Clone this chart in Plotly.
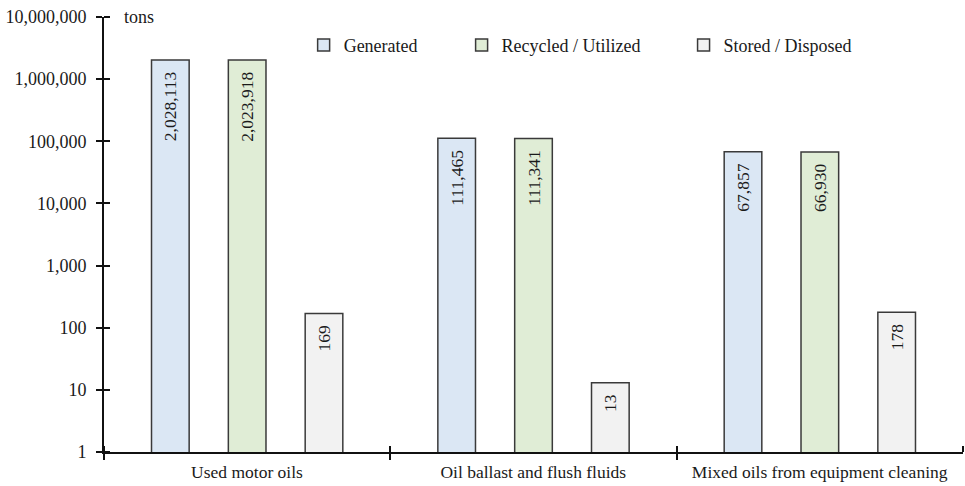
import plotly.graph_objects as go

categories = ["Used motor oils", "Oil ballast and flush fluids", "Mixed oils from equipment cleaning"]
generated = [2028113, 111465, 67857]
recycled = [2023918, 111341, 66930]
stored = [169, 13, 178]
series_names = ["Generated", "Recycled / Utilized", "Stored / Disposed"]
y_tick_values = [1, 10, 100, 1000, 10000, 100000, 1000000, 10000000]
y_tick_labels = [f"{v:,}" for v in y_tick_values]

FONT = "Liberation Serif, Times New Roman, serif"
colors = ["#dbe7f4", "#e0edd6", "#f2f2f2"]
legend_ids = ["legend", "legend2", "legend3"]
AX = "#111111"

# categories sit at 0, 1, 2 on a linear axis; tick marks go on the boundaries
positions = list(range(len(categories)))
boundaries = [p - 0.5 for p in positions] + [positions[-1] + 0.5]

WIDTH, HEIGHT = 965, 486
M_L, M_R, M_T, M_B = 104, 2, 17, 34
cat_px = (WIDTH - M_L - M_R) / len(categories)

fig = go.Figure()
for name, vals, col, lg in zip(series_names, [generated, recycled, stored], colors, legend_ids):
    fig.add_trace(go.Bar(
        x=positions, y=vals, name=name, legend=lg,
        marker=dict(color=col, line=dict(color="#3a3a3a", width=1.5)),
        # en space at the end keeps the value a little below the bar top
        text=[f"{v:,}\u2002" for v in vals],
        textposition="inside", insidetextanchor="end", textangle=-90,
        textfont=dict(family=FONT, size=17.5, color="#1a1a1a"),
        cliponaxis=False, hoverinfo="name+y",
    ))

leg_common = dict(orientation="h", yanchor="middle", xanchor="left",
                  font=dict(family=FONT, size=18, color="#1a1a1a"),
                  bgcolor="rgba(0,0,0,0)", itemwidth=30)

fig.update_layout(
    width=WIDTH, height=HEIGHT,
    margin=dict(l=M_L, r=M_R, t=M_T, b=M_B, autoexpand=False),
    paper_bgcolor="white", plot_bgcolor="white",
    barmode="group", bargap=0.195, bargroupgap=0.51,
    showlegend=True,
    font=dict(family=FONT, size=18, color="#1a1a1a"),
    legend=dict(x=0.2324, y=0.935, **leg_common),
    legend2=dict(x=0.4163, y=0.935, **leg_common),
    legend3=dict(x=0.6747, y=0.935, **leg_common),
    xaxis=dict(
        type="linear", range=[boundaries[0], boundaries[-1]],
        showline=True, linecolor=AX, linewidth=2, automargin=False,
        tickvals=boundaries, ticktext=categories + [""],
        ticks="outside", ticklen=6, tickwidth=2, tickcolor=AX,
        ticklabelshift=int(round(cat_px / 2)), ticklabelstandoff=-3,
        showgrid=False, zeroline=False,
        tickfont=dict(family=FONT, size=17.5, color="#1a1a1a"),
        minor=dict(tickvals=boundaries, ticks="inside", ticklen=6,
                   tickwidth=2, tickcolor=AX, showgrid=False),
    ),
    yaxis=dict(
        type="log", range=[0, 7], showline=True, linecolor=AX, linewidth=2,
        automargin=False,
        ticks="outside", ticklen=6, tickwidth=2, tickcolor=AX,
        tickvals=y_tick_values, ticktext=y_tick_labels,
        showgrid=False, zeroline=False, ticklabelstandoff=6,
        tickfont=dict(family=FONT, size=18, color="#1a1a1a"),
        # minor ticks on the same values give the inner half of each cross
        minor=dict(tickvals=y_tick_values, ticks="inside", ticklen=6,
                   tickwidth=2, tickcolor=AX, showgrid=False),
    ),
    annotations=[dict(
        text="tons", xref="paper", yref="paper", x=0.021, y=1.0,
        xanchor="left", yanchor="middle", showarrow=False,
        font=dict(family=FONT, size=18, color="#1a1a1a"),
    )],
)

fig.write_html("out.html")
